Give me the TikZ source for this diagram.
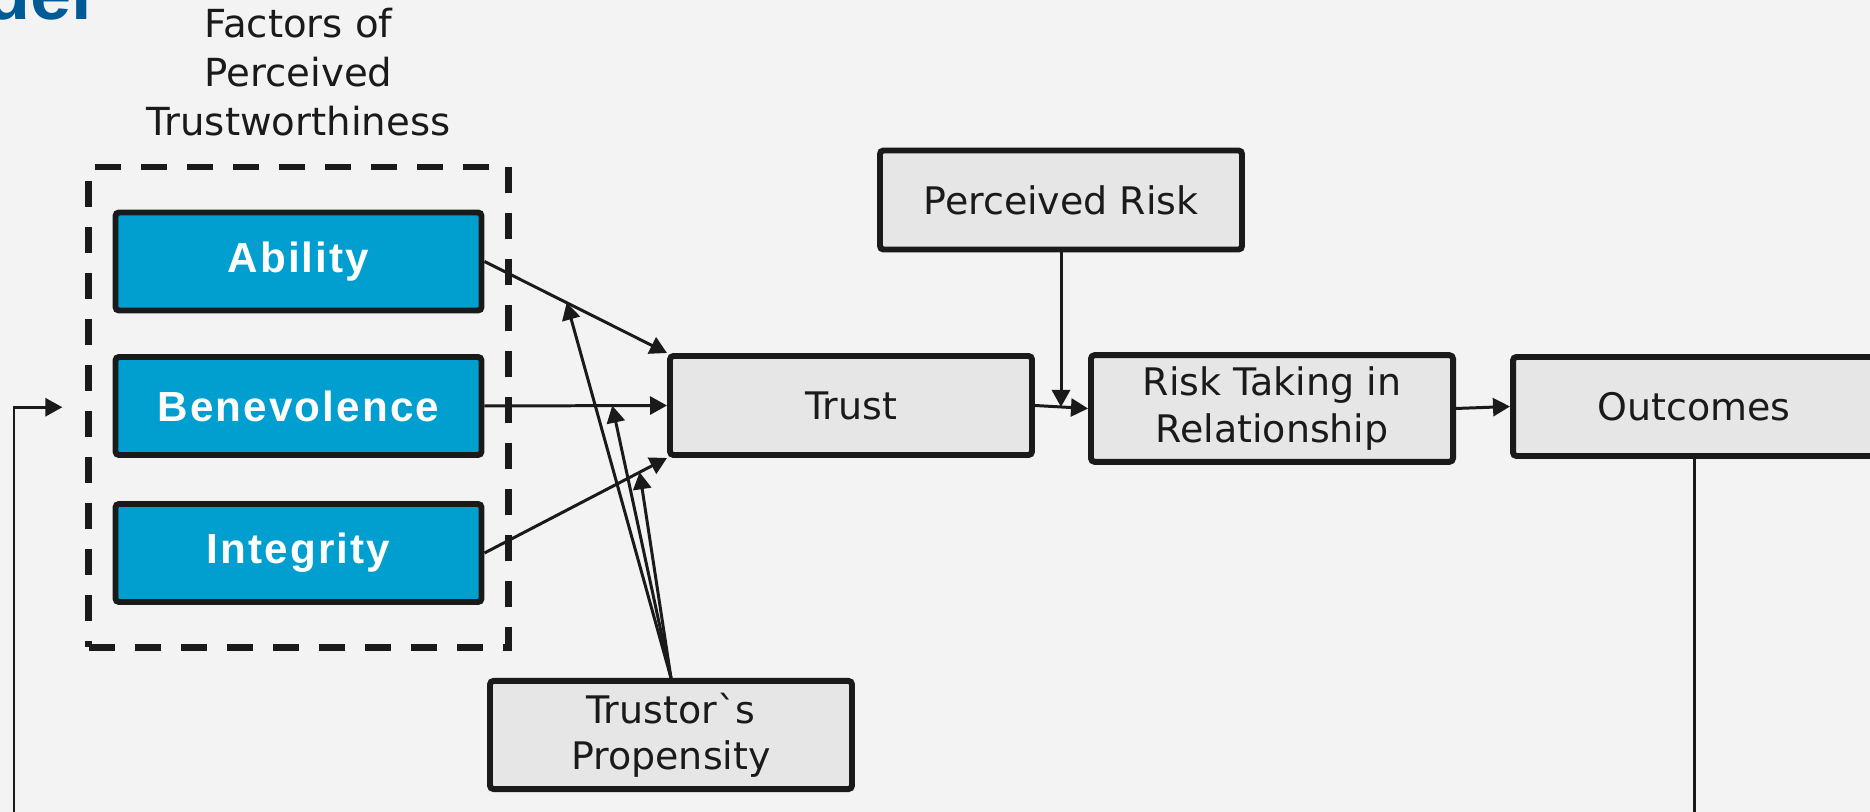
\documentclass[tikz,border=0pt]{standalone}
\usepackage{fontspec}
\setmainfont{DejaVu Sans}
\newfontfamily\boxfont[LetterSpace=5]{Liberation Sans}
\newfontfamily\headfont{Liberation Sans}
\usepackage{tikz}
\usetikzlibrary{arrows.meta,positioning,fit}
\definecolor{bgcol}{HTML}{F3F3F3}
\definecolor{boxblue}{HTML}{019FCF}
\definecolor{boxgray}{HTML}{E6E6E6}
\definecolor{linecol}{HTML}{1A1A1A}
\definecolor{headblue}{HTML}{005A96}

\begin{document}
\begin{tikzpicture}[>={Triangle[length=0.17cm,width=0.18cm]},
every node/.style={font=\fontsize{10.8}{13.2}\selectfont,text=linecol},
factor/.style={draw=linecol,line width=1.7pt,rounded corners=1pt,fill=boxblue,minimum width=3.66cm,minimum height=0.98cm,text=white,font=\boxfont\bfseries\fontsize{12}{14}\selectfont},
stage/.style={draw=linecol,line width=1.7pt,rounded corners=1pt,fill=boxgray,minimum width=3.62cm,minimum height=0.99cm,align=center},
link/.style={->,draw=linecol,line width=0.85pt}]
\useasboundingbox(0,0)rectangle(18.7,-8.12);
\fill[bgcol](0,0)rectangle(18.7,-8.12);
\clip(0,0)rectangle(18.7,-8.12);
\node[anchor=base east,inner sep=0,text=headblue,font=\headfont\bfseries\fontsize{21}{21}\selectfont](head)at(0.93,-0.2){Model};
\node[factor](abil)at(2.985,-2.615){Ability};
\node[factor](bene)at(2.985,-4.06){Benevolence};
\node[factor](integ)at(2.985,-5.53){Integrity};
\node[draw=linecol,line width=1.8pt,dash pattern=on 0.26cm off 0.2cm,fit=(abil)(integ),inner xsep=0.24cm,inner ysep=0.425cm](factors){};
\node[above=0.15cm of factors,align=center,font=\fontsize{11}{14}\selectfont](ftitle){Factors of\\Perceived\\Trustworthiness};
\node[stage](trust)at(8.51,-4.055){Trust};
\node[stage](perc)at(10.61,-2.0){Perceived Risk};
\node[stage](risk)at(12.72,-4.085){Risk Taking in\\Relationship};
\node[stage](outc)at(16.94,-4.065){Outcomes};
\node[stage](prop)at(6.71,-7.35){Trustorˋs\\Propensity};
\draw[link](abil.east)--(trust.north west)coordinate[pos=0.45](pa);
\draw[link](bene.east)--(trust.west)coordinate[pos=0.7](pb);
\draw[link](integ.east)--(trust.south west)coordinate[pos=0.85](pc);
\draw[link](prop.north)--(pa);
\draw[link](prop.north)--(pb);
\draw[link](prop.north)--(pc);
\draw[link](trust.east)--(risk.west)coordinate[pos=0.5](pt);
\draw[link](perc.south)--(perc.south|-pt);
\draw[link](risk.east)--(outc.west);
\coordinate(fb)at([xshift=-0.23cm]factors.west);
\draw[link](outc.south)|-(0.14,-8.6)|-(fb);
\end{tikzpicture}
\end{document}
